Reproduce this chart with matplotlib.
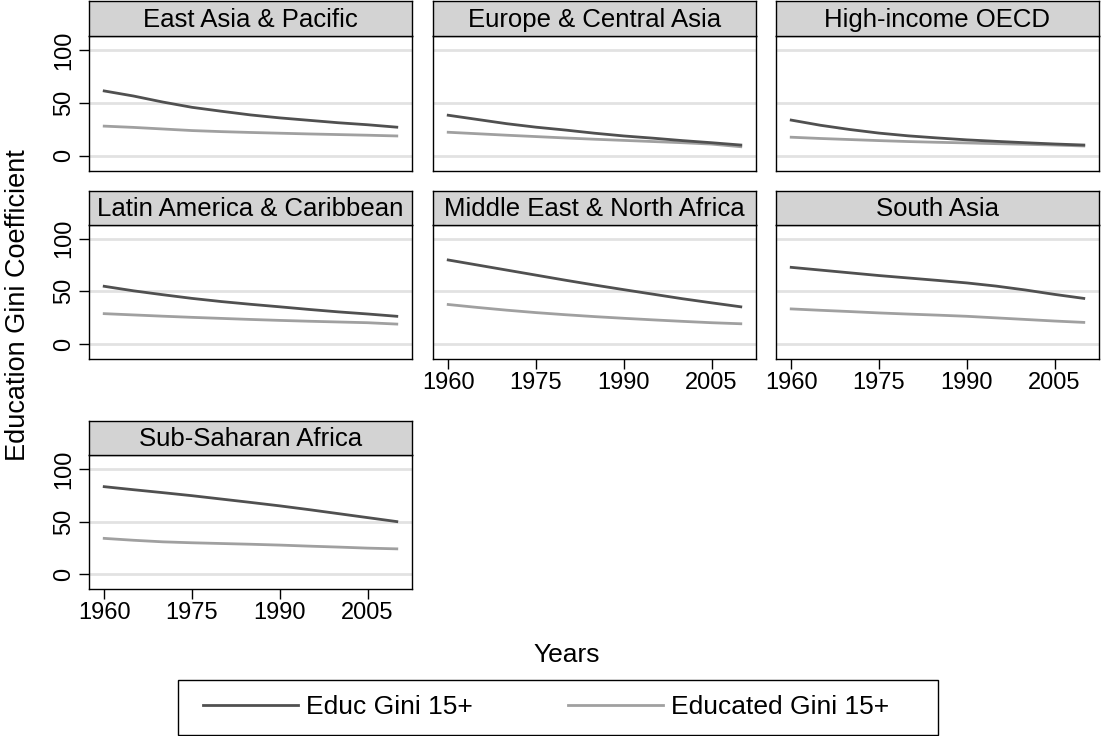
import matplotlib
matplotlib.use("Agg")
import matplotlib.pyplot as plt
from matplotlib.lines import Line2D
from matplotlib.patches import Rectangle

plt.rcParams['font.family'] = ['Liberation Sans', 'DejaVu Sans']

years = [1960, 1965, 1970, 1975, 1980, 1985, 1990, 1995, 2000, 2005, 2010]

regions = ["East Asia & Pacific", "Europe & Central Asia", "High-income OECD",
           "Latin America & Caribbean", "Middle East & North Africa", "South Asia",
           "Sub-Saharan Africa"]

educ_gini = [
    [61.5, 56.7, 51.0, 46.0, 42.3, 38.8, 36.0, 33.7, 31.4, 29.5, 27.2],
    [38.5, 34.5, 30.5, 27.2, 24.5, 21.5, 18.9, 16.8, 14.5, 12.5, 10.3],
    [33.9, 29.0, 25.0, 21.6, 19.0, 17.0, 15.2, 13.8, 12.5, 11.3, 10.3],
    [54.8, 50.5, 46.8, 43.3, 40.3, 37.7, 35.3, 32.8, 30.5, 28.5, 26.3],
    [79.8, 75.0, 70.2, 65.4, 60.6, 56.0, 51.6, 47.3, 43.0, 39.1, 35.3],
    [72.8, 70.2, 67.6, 65.0, 62.7, 60.4, 58.0, 55.0, 51.3, 47.1, 43.3],
    [83.3, 80.4, 77.6, 74.7, 71.5, 68.3, 65.0, 61.4, 57.6, 53.8, 50.0],
]

educated_gini = [
    [28.2, 27.0, 25.5, 24.0, 23.0, 22.2, 21.5, 20.8, 20.2, 19.6, 18.9],
    [22.4, 21.0, 19.6, 18.3, 17.0, 15.8, 14.7, 13.6, 12.5, 11.2, 8.7],
    [17.7, 16.5, 15.5, 14.5, 13.6, 12.9, 12.3, 11.6, 11.0, 10.3, 9.4],
    [28.8, 27.6, 26.4, 25.3, 24.3, 23.3, 22.4, 21.6, 20.9, 20.2, 18.9],
    [37.5, 34.7, 32.1, 29.8, 27.8, 26.0, 24.4, 22.9, 21.5, 20.2, 19.2],
    [33.3, 32.0, 30.8, 29.5, 28.4, 27.4, 26.3, 24.8, 23.3, 21.8, 20.5],
    [34.0, 32.2, 30.7, 29.8, 29.1, 28.4, 27.6, 26.6, 25.7, 24.7, 24.0],
]

series_labels = ["Educ Gini 15+", "Educated Gini 15+"]
y_ticks = [0, 50, 100]
x_ticks = [1960, 1975, 1990, 2005]

W, H = 1102, 736
fig = plt.figure(figsize=(W / 100, H / 100), dpi=100)


def rect(x0, yt, x1, yb):
    return [x0 / W, 1 - yb / H, (x1 - x0) / W, (yb - yt) / H]


cols = [(89, 412), (433, 756), (776, 1099)]
rows = [(1, 36, 170.5), (191, 224.5, 358.5), (421, 455, 588.5)]

dark = "#505050"
light = "#a0a0a0"
tick_fs = 17
strip_fs = 18.5
leg_fs = 19
lw = 2.0

xtick_panels = {4, 5, 6}

for i, name in enumerate(regions):
    r, c = divmod(i, 3)
    x0, x1 = cols[c]
    st, pt, pb = rows[r]
    ax = fig.add_axes(rect(x0, pt, x1, pb))
    for yv in y_ticks:
        ax.axhline(yv, color="#e2e2e2", lw=2, zorder=0)
    ax.plot(years, educated_gini[i], color=light, lw=lw, zorder=2)
    ax.plot(years, educ_gini[i], color=dark, lw=lw, zorder=3)
    ax.set_xlim(1957.4, 2012.6)
    ax.set_ylim(-13.8, 113.5)
    for s in ax.spines.values():
        s.set_linewidth(1.0)
        s.set_color("black")
    ax.tick_params(axis="both", length=7, width=1, pad=3, labelsize=tick_fs, colors="black")
    ax.set_yticks(y_ticks)
    if c == 0:
        ax.set_yticklabels([str(v) for v in y_ticks], rotation=90, va="center")
    else:
        ax.tick_params(axis="y", length=0, labelleft=False)
    ax.set_xticks(x_ticks)
    if i in xtick_panels:
        ax.set_xticklabels([str(v) for v in x_ticks])
    else:
        ax.tick_params(axis="x", length=0, labelbottom=False)

    sax = fig.add_axes(rect(x0, st, x1, pt))
    sax.set_facecolor("#d3d3d3")
    sax.set_xticks([])
    sax.set_yticks([])
    for s in sax.spines.values():
        s.set_linewidth(1.0)
        s.set_color("black")
    sax.text(0.5, 0.47, name, ha="center", va="center", fontsize=strip_fs,
             transform=sax.transAxes)

fig.text(18 / W, 1 - 305 / H, "Education Gini Coefficient", rotation=90,
         ha="center", va="center", fontsize=19.5)
fig.text(567 / W, 1 - 655 / H, "Years", ha="center", va="center", fontsize=19)

# legend frame
fig.patches.append(Rectangle((178 / W, 1 - 735 / H), (938 - 178) / W, (735 - 680) / H,
                             transform=fig.transFigure, facecolor="white",
                             edgecolor="black", lw=1.0, zorder=1))

handles = [Line2D([], [], color=dark, lw=lw), Line2D([], [], color=light, lw=lw)]
leg = fig.legend(handles, series_labels, loc="center left", ncol=2,
                 bbox_to_anchor=(203 / W, 1 - 707.5 / H), fontsize=leg_fs,
                 frameon=False, handlelength=3.6, columnspacing=3.6,
                 handletextpad=0.3, borderpad=0, borderaxespad=0)
leg.set_zorder(3)

fig.savefig("out.png", dpi=100, facecolor="white")
